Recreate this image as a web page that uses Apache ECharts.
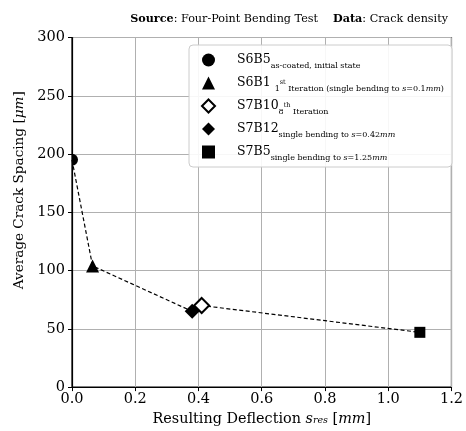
<!DOCTYPE html>
<html>
<head>
<meta charset="utf-8">
<script src="https://cdn.jsdelivr.net/npm/echarts@6/dist/echarts.min.js"></script>
<style>
  html, body { margin: 0; padding: 0; background: #fff; }
  #chart { width: 466px; height: 431px; }
</style>
</head>
<body>
<div id="chart"></div>
<script>
// Specimens measured in the four-point bending test
const specimens = ['S6B5', 'S6B1', 'S7B10', 'S7B12', 'S7B5'];
// Resulting deflection s_res in mm
const deflection = [0.0, 0.065, 0.41, 0.38, 1.10];
// Average crack spacing in µm
const crackSpacing = [195, 104, 70, 65, 47];
// Axis ticks
const xTicks = [0.0, 0.2, 0.4, 0.6, 0.8, 1.0, 1.2];
const yTicks = [0, 50, 100, 150, 200, 250, 300];

const FONT = "'DejaVu Serif', serif";

const markers = {
  S6B5:  { symbol: 'circle',   size: 12, fill: '#000', border: 0 },
  S6B1:  { symbol: 'triangle', size: 13, fill: '#000', border: 0 },
  S7B10: { symbol: 'diamond',  size: 15, fill: '#fff', border: 2 },
  S7B12: { symbol: 'diamond',  size: 15, fill: '#000', border: 0 },
  S7B5:  { symbol: 'rect',     size: 11, fill: '#000', border: 0 }
};

// Legend captions with subscripts / superscripts
const captions = {
  S6B5:  'S6B5{sub|as-coated, initial state}',
  S6B1:  'S6B1 {sub|1}{sup|st}{sub| Iteration (single bending to }{subi|s}{sub|=0.1}{subi|mm}{sub|)}',
  S7B10: 'S7B10{sub|8}{sup|th}{sub| Iteration}',
  S7B12: 'S7B12{sub|single bending to }{subi|s}{sub|=0.42}{subi|mm}',
  S7B5:  'S7B5{sub|single bending to }{subi|s}{sub|=1.25}{subi|mm}'
};

// Dashed guide line through the points, ordered by deflection
const order = deflection.map((d, i) => i).sort((a, b) => deflection[a] - deflection[b]);
const lineData = order.map(i => [deflection[i], crackSpacing[i]]);

// Markers; circles are drawn by a custom series so they are clipped at the plot edge
const markerSeries = specimens.map((name, i) => {
  const m = markers[name];
  const point = [[deflection[i], crackSpacing[i]]];
  if (m.symbol === 'circle') {
    return {
      name: name,
      type: 'custom',
      data: point,
      clip: true,
      itemStyle: { color: m.fill },
      renderItem: (params, api) => {
        const c = api.coord([api.value(0), api.value(1)]);
        return {
          type: 'circle',
          shape: { cx: c[0], cy: c[1], r: m.size / 2 },
          style: { fill: m.fill }
        };
      },
      z: 5
    };
  }
  return {
    name: name,
    type: 'scatter',
    data: point,
    symbol: m.symbol,
    symbolSize: m.size,
    itemStyle: { color: m.fill, borderColor: '#000', borderWidth: m.border, opacity: 1 },
    z: 5
  };
});

const legendData = specimens.map(name => {
  const m = markers[name];
  return m.symbol === 'circle'
    ? { name: name, icon: 'circle', itemStyle: { color: m.fill } }
    : { name: name };
});

const chart = echarts.init(document.getElementById('chart'), null, { renderer: 'canvas' });

chart.setOption({
  animation: false,
  backgroundColor: '#fff',
  textStyle: { fontFamily: FONT, color: '#000' },
  title: {
    text: '{b|Source}: Four-Point Bending Test{gap|}{b|Data}: Crack density',
    right: 13,
    top: 9,
    textStyle: {
      fontFamily: FONT, fontSize: 11.2, fontWeight: 'normal', color: '#000',
      rich: {
        b: { fontFamily: FONT, fontSize: 11.2, fontWeight: 'bold', color: '#000' },
        gap: { width: 15 }
      }
    }
  },
  grid: {
    left: 72, right: 11, top: 37.5, bottom: 42.5,
    show: true, borderColor: '#000', borderWidth: 1.2, backgroundColor: 'transparent'
  },
  legend: {
    orient: 'vertical',
    left: 189,
    top: 45,
    data: legendData,
    itemWidth: 13,
    itemHeight: 13,
    itemGap: 3,
    padding: [5, 8, 5, 12],
    backgroundColor: 'rgba(255,255,255,0.9)',
    borderColor: '#cccccc',
    borderWidth: 1,
    borderRadius: 4,
    formatter: name => captions[name],
    textStyle: {
      fontFamily: FONT, fontSize: 12.5, color: '#000', lineHeight: 20,
      padding: [0, 0, 0, 17],
      rich: {
        sub: { fontFamily: FONT, fontSize: 8, color: '#000', verticalAlign: 'bottom', lineHeight: 10 },
        subi: { fontFamily: FONT, fontSize: 8, fontStyle: 'italic', color: '#000', verticalAlign: 'bottom', lineHeight: 10 },
        sup: { fontFamily: FONT, fontSize: 6.5, color: '#000', verticalAlign: 'bottom', lineHeight: 8, padding: [0, 0, 7, 0] }
      }
    }
  },
  xAxis: {
    type: 'value',
    min: 0, max: 1.2, interval: 0.2,
    name: 'Resulting Deflection {i|s}{sub|res} [{i|mm}]',
    nameLocation: 'middle',
    nameGap: 21,
    nameTextStyle: {
      fontFamily: FONT, fontSize: 14.4, color: '#000',
      rich: {
        i: { fontFamily: FONT, fontSize: 14.4, fontStyle: 'italic', color: '#000' },
        sub: { fontFamily: FONT, fontSize: 9.5, fontStyle: 'italic', color: '#000', verticalAlign: 'bottom', lineHeight: 12 }
      }
    },
    axisLine: { show: true, onZero: false, lineStyle: { color: '#000', width: 1.2 } },
    axisTick: { show: true, inside: false, length: 4, lineStyle: { color: '#000', width: 1 } },
    axisLabel: {
      fontFamily: FONT, fontSize: 14.5, color: '#000', margin: 5,
      formatter: v => xTicks.some(t => Math.abs(t - v) < 1e-9) ? v.toFixed(1) : ''
    },
    splitLine: { show: true, lineStyle: { color: '#b0b0b0', width: 1 } }
  },
  yAxis: {
    type: 'value',
    min: 0, max: 300, interval: 50,
    name: 'Average Crack Spacing [{i|μm}]',
    nameLocation: 'middle',
    nameGap: 38,
    nameTextStyle: {
      fontFamily: FONT, fontSize: 13.6, color: '#000',
      padding: [0, 0, 0, 44],
      rich: { i: { fontFamily: FONT, fontSize: 13.6, fontStyle: 'italic', color: '#000' } }
    },
    axisLine: { show: true, onZero: false, lineStyle: { color: '#000', width: 1.2 } },
    axisTick: { show: true, inside: false, length: 4, lineStyle: { color: '#000', width: 1 } },
    axisLabel: {
      fontFamily: FONT, fontSize: 14.5, color: '#000', margin: 7,
      formatter: v => yTicks.includes(v) ? String(v) : ''
    },
    splitLine: { show: true, lineStyle: { color: '#b0b0b0', width: 1 } }
  },
  series: [
    {
      name: 'trend',
      type: 'line',
      data: lineData,
      showSymbol: false,
      symbol: 'none',
      lineStyle: { color: '#000', width: 1.2, type: [4, 2.5] },
      z: 3,
      silent: true
    }
  ].concat(markerSeries)
});
</script>
</body>
</html>
